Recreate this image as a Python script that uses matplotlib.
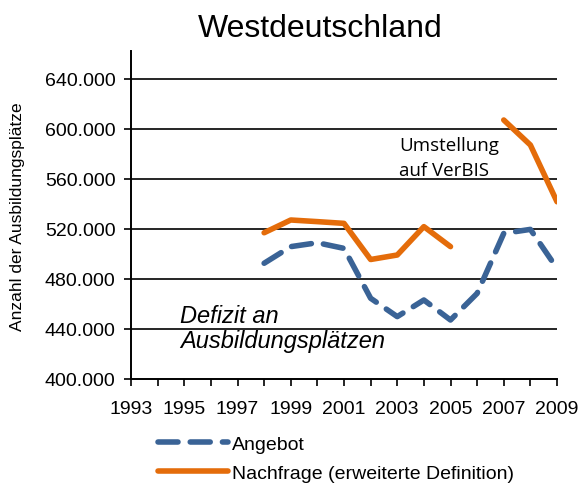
import numpy as np
import matplotlib
matplotlib.use("Agg")
import matplotlib.pyplot as plt
from matplotlib.lines import Line2D

# data (values in thousands)
years = list(range(1993, 2010))
angebot = [None] * 5 + [492.6, 505.9, 509.0, 504.5, 464.6, 449.9, 463.2, 447.2, 468.5, 516.5, 519.7, 488.5]
nachfrage = [None] * 5 + [517.0, 527.2, 525.9, 524.5, 495.6, 499.2, 521.9, 505.9, None, 607.2, 587.2, 541.8]
yticks = [400, 440, 480, 520, 560, 600, 640]
xlabels = [1993, 1995, 1997, 1999, 2001, 2003, 2005, 2007, 2009]

blue = "#3A6396"
orange = "#E46C0A"

plt.rcParams['font.family'] = ['Liberation Sans', 'DejaVu Sans']

fig = plt.figure(figsize=(5.79, 4.85), dpi=100)
W, H = 579, 485
ax = fig.add_axes([131 / W, 1 - 380 / H, (557 - 131) / W, (380 - 52) / H])

a = np.array([np.nan if v is None else v for v in angebot])
n = np.array([np.nan if v is None else v for v in nachfrage])

ax.plot(years, a, color=blue, lw=4, dashes=(3.6, 2.2), dash_capstyle='round',
        solid_capstyle='round', zorder=3)
ax.plot(years, n, color=orange, lw=4, solid_capstyle='round', zorder=3)

ax.set_xlim(1993, 2009)
ax.set_ylim(400, 400 + (380 - 52) / 1.25)
ax.set_yticks(yticks)
ax.set_yticklabels([f"{v}.000" for v in yticks], fontsize=14)
ax.set_xticks(years, minor=False)
ax.set_xticklabels([str(y) if y in xlabels else "" for y in years], fontsize=14)
ax.tick_params(axis='y', direction='out', length=5, width=1.2, pad=6)
ax.tick_params(axis='x', direction='out', length=5, width=1.2, pad=10)
for y in yticks[1:]:
    ax.axhline(y, color='black', lw=1.2, zorder=1)
for s in ['top', 'right']:
    ax.spines[s].set_visible(False)
for s in ['left', 'bottom']:
    ax.spines[s].set_linewidth(1.4)

fig.text(320 / W, 1 - 29 / H, "Westdeutschland", fontsize=23, ha='center', va='center')
fig.text(18 / W, 1 - 217 / H, "Anzahl der Ausbildungsplätze", fontsize=12.5,
         rotation=90, ha='center', va='center')

fig.text(180 / W, 1 - 329 / H, "Defizit an\nAusbildungsplätzen", fontsize=17,
         style='italic', ha='left', va='center', linespacing=1.12)
fig.text(399 / W, 1 - 159 / H, "Umstellung\nauf VerBIS", fontsize=13.5,
         family=['Open Sans', 'DejaVu Sans'], ha='left', va='center', linespacing=1.5)

# legend below the plot
handles = [Line2D([], [], color=blue, lw=4, dashes=(3.6, 2.2), dash_capstyle='round'),
           Line2D([], [], color=orange, lw=4, solid_capstyle='round')]
fig.legend(handles, ["Angebot", "Nachfrage (erweiterte Definition)"],
           loc='upper left', bbox_to_anchor=(158 / W, 1 - 436 / H), frameon=False,
           fontsize=14, handlelength=3.6, handletextpad=0.2, labelspacing=0.6,
           borderaxespad=0, borderpad=0)

fig.savefig("out.png", dpi=100)
